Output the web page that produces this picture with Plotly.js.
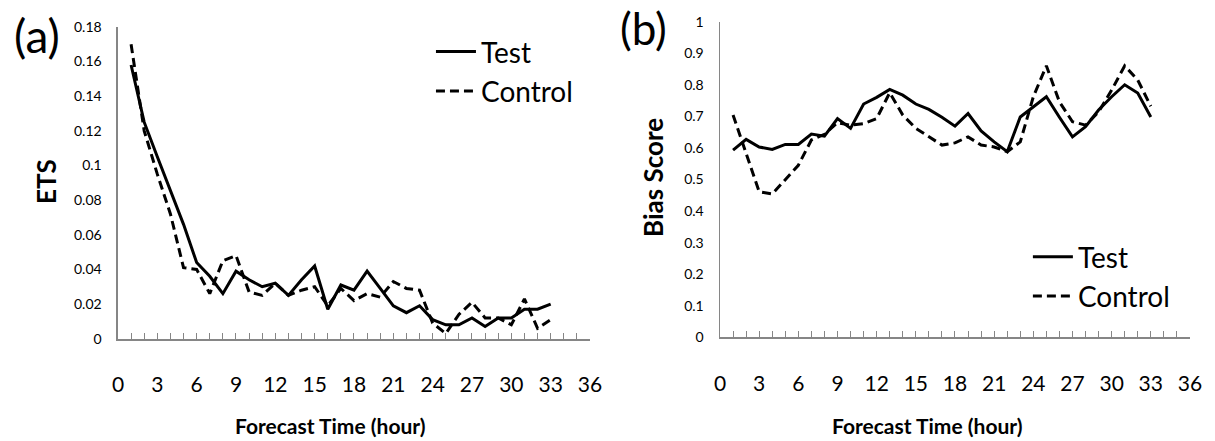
<!DOCTYPE html>
<html>
<head>
<meta charset="utf-8">
<script src="https://cdn.plot.ly/plotly-3.0.1.min.js"></script>
<style>html,body{margin:0;padding:0;background:#fff;}#chart{width:1215px;height:441px;}</style>
</head>
<body>
<div id="chart"></div>
<script>
// Forecast hours
const hours = [1,2,3,4,5,6,7,8,9,10,11,12,13,14,15,16,17,18,19,20,21,22,23,24,25,26,27,28,29,30,31,32,33];
// (a) ETS
const etsTest = [0.158,0.125,0.105,0.086,0.066,0.044,0.036,0.026,0.039,0.034,0.030,0.032,0.025,0.034,0.042,0.017,0.031,0.028,0.039,0.029,0.019,0.015,0.019,0.011,0.008,0.008,0.012,0.007,0.012,0.012,0.017,0.017,0.020];
const etsControl = [0.170,0.120,0.095,0.072,0.041,0.040,0.026,0.045,0.048,0.027,0.025,0.032,0.025,0.028,0.030,0.019,0.029,0.022,0.026,0.024,0.033,0.029,0.028,0.009,0.003,0.014,0.021,0.012,0.012,0.008,0.023,0.006,0.011];
// (b) Bias Score
const biasTest = [0.593,0.627,0.603,0.595,0.611,0.611,0.644,0.637,0.693,0.662,0.739,0.760,0.785,0.767,0.739,0.722,0.697,0.669,0.709,0.654,0.619,0.588,0.698,0.730,0.762,0.697,0.635,0.667,0.720,0.762,0.800,0.774,0.698];
const biasControl = [0.704,0.585,0.461,0.454,0.498,0.545,0.625,0.643,0.680,0.672,0.677,0.693,0.775,0.704,0.662,0.635,0.609,0.616,0.635,0.609,0.603,0.588,0.619,0.762,0.860,0.746,0.683,0.672,0.714,0.783,0.860,0.815,0.732];
const seriesNames = ["Test","Control"];
const xTickVals = [0,3,6,9,12,15,18,21,24,27,30,33,36];

const FONT = "Lato, 'Open Sans', sans-serif";
const AX = "#868686";

const solid = {color:"#000", width:3};
const dashed = {color:"#000", width:3, dash:"9px,5px"};

const traces = [
  {x:hours, y:etsTest, name:seriesNames[0], type:"scatter", mode:"lines", line:solid, xaxis:"x", yaxis:"y", legend:"legend"},
  {x:hours, y:etsControl, name:seriesNames[1], type:"scatter", mode:"lines", line:dashed, xaxis:"x", yaxis:"y", legend:"legend"},
  {x:hours, y:biasTest, name:seriesNames[0], type:"scatter", mode:"lines", line:solid, xaxis:"x2", yaxis:"y2", legend:"legend2"},
  {x:hours, y:biasControl, name:seriesNames[1], type:"scatter", mode:"lines", line:dashed, xaxis:"x2", yaxis:"y2", legend:"legend2"}
];

function xAxis(domain, anchor){
  return {
    domain:domain, anchor:anchor, range:[0,36], tickmode:"array", tickvals:xTickVals,
    ticktext:xTickVals.map(String), showgrid:false, zeroline:false,
    showline:true, linecolor:AX, linewidth:2, ticks:"inside", ticklen:6, tickcolor:AX, tickwidth:1,
    minor:{dtick:1, tick0:0, ticks:"inside", ticklen:6, tickcolor:AX, tickwidth:1, showgrid:false},
    tickfont:{family:FONT, size:21, color:"#000"}, ticklabelstandoff:26, fixedrange:true
  };
}
function yAxis(domain, anchor, range, dtick){
  return {
    domain:domain, anchor:anchor, range:range, dtick:dtick, tick0:0, showgrid:false, zeroline:false,
    showline:true, linecolor:AX, linewidth:1.5, ticks:"",
    tickfont:{family:FONT, size:14, color:"#000"}, ticklabelstandoff:12, fixedrange:true
  };
}

const legendStyle = {xanchor:"left", yanchor:"top", bgcolor:"rgba(0,0,0,0)",
  font:{family:FONT, size:28, color:"#000"}, itemwidth:40, tracegroupgap:0};

const layout = {
  width:1215, height:441,
  margin:{l:0,r:0,t:0,b:0},
  paper_bgcolor:"#fff", plot_bgcolor:"#fff",
  font:{family:FONT, color:"#000"},
  xaxis: xAxis([0.0971,0.4856],"y"),
  yaxis: yAxis([0.232,0.939],"x",[0,0.18],0.02),
  xaxis2: xAxis([0.5926,0.9794],"y2"),
  yaxis2: yAxis([0.235,0.951],"x2",[0,1],0.1),
  legend: Object.assign({x:0.3547, y:0.939}, legendStyle),
  legend2: Object.assign({x:0.846, y:0.474}, legendStyle),
  annotations:[
    {text:"(a)", xref:"paper", yref:"paper", x:37/1215, y:1-36/441, xanchor:"center", yanchor:"middle", showarrow:false, font:{family:FONT, size:46}},
    {text:"(b)", xref:"paper", yref:"paper", x:643/1215, y:1-28/441, xanchor:"center", yanchor:"middle", showarrow:false, font:{family:FONT, size:44}},
    {text:"<b>ETS</b>", xref:"paper", yref:"paper", x:46/1215, y:1-182/441, xanchor:"center", yanchor:"middle", textangle:-90, showarrow:false, font:{family:FONT, size:26}},
    {text:"<b>Bias Score</b>", xref:"paper", yref:"paper", x:653/1215, y:1-178/441, xanchor:"center", yanchor:"middle", textangle:-90, showarrow:false, font:{family:FONT, size:26}},
    {text:"<b>Forecast Time (hour)</b>", xref:"paper", yref:"paper", x:330/1215, y:1-425/441, xanchor:"center", yanchor:"middle", showarrow:false, font:{family:FONT, size:21}},
    {text:"<b>Forecast Time (hour)</b>", xref:"paper", yref:"paper", x:927/1215, y:1-425/441, xanchor:"center", yanchor:"middle", showarrow:false, font:{family:FONT, size:21}}
  ]
};

Plotly.newPlot("chart", traces, layout, {displayModeBar:false, staticPlot:true});
</script>
</body>
</html>
